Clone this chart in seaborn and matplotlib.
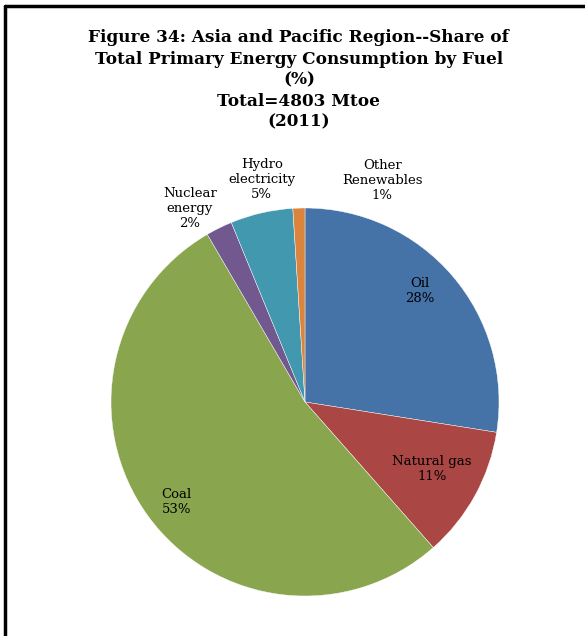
import matplotlib
matplotlib.use("Agg")
import matplotlib.pyplot as plt
import seaborn as sns
import numpy as np
from matplotlib.lines import Line2D

categories = ["Oil", "Natural gas", "Coal", "Nuclear\nenergy", "Hydro\nelectricity", "Other\nRenewables"]
shares = [27.5, 11.0, 53.1, 2.2, 5.2, 1.0]
colors = ["#4572A7", "#AA4643", "#89A54E", "#71588F", "#4198AF", "#DB843D"]
title_lines = ["Figure 34: Asia and Pacific Region--Share of",
               "Total Primary Energy Consumption by Fuel",
               "(%)", "Total=4803 Mtoe", "(2011)"]

sns.set_style("white")
plt.rcParams['font.family'] = ['DejaVu Serif']
plt.rcParams['text.color'] = 'black'

W, H = 585, 636
fig = plt.figure(figsize=(W / 100, H / 100), dpi=100)
cx, cy, r = 305, 402, 194
ax = fig.add_axes([(cx - r) / W, (H - cy - r) / H, 2 * r / W, 2 * r / H])
wedges, _ = ax.pie(shares, colors=colors, startangle=90, counterclock=False,
                   radius=1, wedgeprops=dict(edgecolor="white", linewidth=0.3))
ax.set_xlim(-1, 1)
ax.set_ylim(-1, 1)
ax.set_aspect("equal")
ax.axis("off")

# label placement: radial distance and angular offset (deg) per slice
label_r = [0.82, 0.74, 0.84, 1.16, 1.17, 1.21]
label_da = [3.5, 1, 2, 4.5, -2, -21]
for w, cat, s, lr, da in zip(wedges, categories, shares, label_r, label_da):
    mid = np.deg2rad((w.theta1 + w.theta2) / 2 + da)
    ax.text(lr * np.cos(mid), lr * np.sin(mid), f"{cat}\n{s:.0f}%",
            ha="center", va="center", fontsize=9.5, linespacing=1.2,
            color="black")

for i, line in enumerate(title_lines):
    fig.text(0.511, 1 - (38 + 21 * i) / H, line, ha="center", va="center",
             fontsize=12.2, fontweight="bold", color="black")

# frame lines (left and top)
fig.add_artist(Line2D([5 / W, 5 / W], [0, 1 - 6 / H], color="black", lw=2.5,
                      transform=fig.transFigure))
fig.add_artist(Line2D([5 / W, 1], [1 - 6 / H, 1 - 6 / H], color="black", lw=2.5,
                      transform=fig.transFigure))

fig.savefig("out.png", dpi=100)
